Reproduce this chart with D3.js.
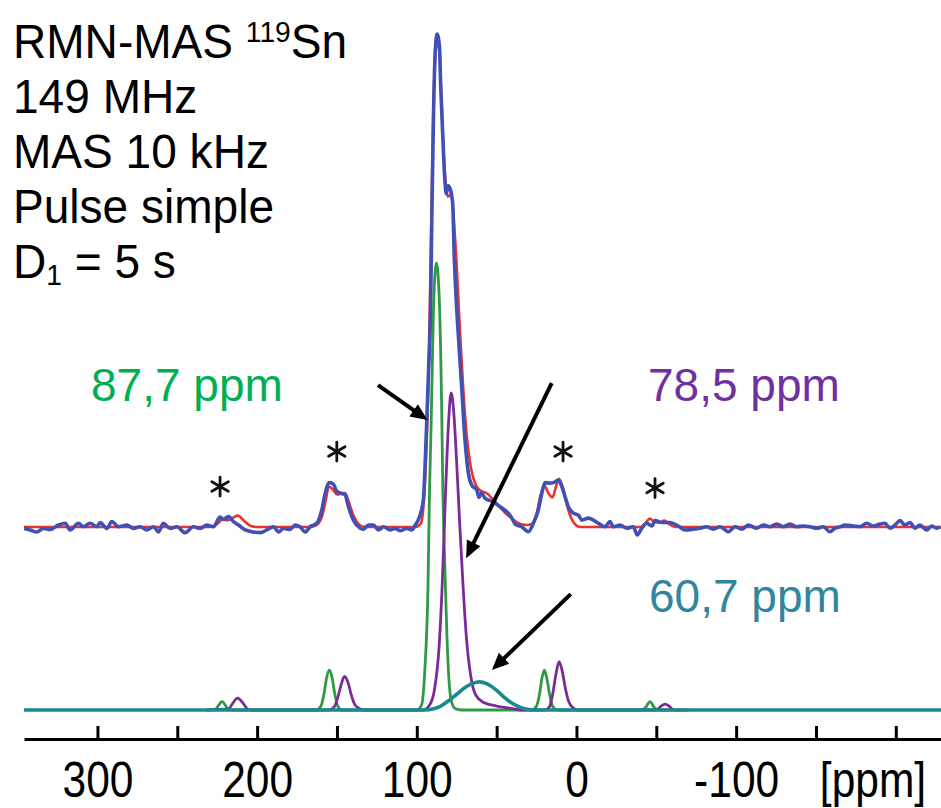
<!DOCTYPE html>
<html>
<head>
<meta charset="utf-8">
<script src="https://cdn.jsdelivr.net/npm/d3@7"></script>
<style>
  html, body { margin: 0; padding: 0; background: #ffffff; }
  svg { display: block; }
</style>
</head>
<body>
<svg id="chart" width="941" height="808"></svg>
<script>
// ---------------- DATA (ppm, intensity) ----------------
const tickValues = [300, 250, 200, 150, 100, 50, 0, -50, -100, -150, -200];
const labelledTicks = [300, 200, 100, 0, -100];
const axisUnit = "[ppm]";

const infoLines = ["RMN-MAS", "149 MHz", "MAS 10 kHz", "Pulse simple", "D"];

// experimental spectrum (blue)
const experimental = [
  [345.9,-0.3],[342.2,-0.6],[338.0,-1.0],[333.8,-0.3],[329.6,-0.5],[324.4,0.4],[320.2,0.75],[317.1,-0.6],
  [311.9,0.75],[308.8,0.05],[304.6,0.75],[300.4,0.05],[298.3,0.9],[294.1,-0.3],[291.0,1.1],[286.8,0.05],
  [281.6,0.4],[277.4,-0.3],[273.3,0.05],[269.1,-0.6],[264.9,0.05],[261.8,-1.0],[258.7,0.75],[254.5,-0.3],
  [250.3,0.05],[245.1,-1.15],[239.9,0.05],[235.7,-0.3],[231.5,0.4],[227.4,0.05],[223.2,2.0],[221.1,1.55],
  [218.0,2.1],[214.8,1.1],[211.7,0.4],[207.5,-0.6],[202.3,-1.0],[198.1,-1.15],[193.9,-0.6],[189.8,0.05],
  [186.6,-1.0],[183.5,-0.3],[179.3,-0.5],[176.2,0.4],[173.1,0.05],[169.9,-1.0],[166.8,0.05],[162.6,0.75],
  [159.5,3.45],[157.4,6.8],[154.7,9.0],[152.2,8.7],[150.1,7.2],[147.0,6.8],[144.9,6.5],[142.8,4.1],
  [139.7,1.4],[136.6,0.05],[133.4,-0.5],[130.3,0.4],[127.2,0.4],[124.0,-0.6],[120.9,0.05],[116.7,-0.6],
  [113.6,-0.3],[110.5,-0.75],[106.3,-0.3],[103.1,-0.6],[101.1,0.3],[99.0,1.5],[97.9,2.5],[95.9,5.5],
  [94.2,17.6],[92.7,31.2],[91.4,43.5],[90.6,62.3],[89.6,82.6],[88.5,96.1],[87.3,100],[85.8,97.4],
  [85.0,89.3],[83.7,79.1],[82.3,69.7],[81.5,67.6],[80.4,69.2],[79.0,68.5],[77.5,65.5],[76.6,55.5],
  [75.3,46.0],[74.0,39.0],[71.8,27.8],[69.8,17.6],[67.7,10.9],[65.6,8.5],[62.4,7.5],[61.0,6.0],
  [59.5,6.9],[57.2,5.8],[52.0,5.1],[47.8,4.1],[43.6,3.1],[41.6,2.4],[40.0,1.5],[38.4,0.6],
  [34.3,0.05],[30.1,-0.95],[27.0,0.75],[23.9,3.45],[21.7,6.8],[19.7,9.0],[16.5,8.9],[14.5,9.0],
  [11.3,9.5],[9.2,8.2],[7.1,6.1],[5.1,4.1],[1.9,2.8],[-1.2,2.4],[-3.3,1.4],[-7.5,1.8],
  [-10.6,1.4],[-13.7,0.75],[-17.9,0.05],[-21.0,1.1],[-23.1,0.05],[-27.3,0.4],[-31.5,-0.25],[-35.6,0.05],
  [-38.1,-1.6],[-40.9,-0.25],[-44.0,0.75],[-47.2,0.2],[-49.2,1.3],[-53.4,0.9],[-58.6,0.9],[-63.8,0.2],
  [-68.0,-0.6],[-73.2,-0.45],[-77.4,-0.25],[-81.6,0.05],[-85.7,-0.45],[-89.9,0.05],[-95.1,-0.95],[-99.3,0.05],
  [-103.5,-0.45],[-107.6,0.4],[-112.9,-0.25],[-117.0,0.4],[-121.2,0.05],[-125.4,0.6],[-129.6,0.05],[-133.7,0.6],
  [-137.9,0.05],[-142.1,0.2],[-146.3,0.05],[-150.5,-0.25],[-154.6,0.05],[-158.8,-0.95],[-161.9,-0.25],[-165.1,0.05],
  [-168.2,0.4],[-173.4,0.2],[-177.6,0.05],[-181.8,0.75],[-185.9,0.2],[-190.1,0.6],[-193.2,0.75],[-196.4,-0.25],
  [-199.5,0.4],[-202.6,1.3],[-205.7,0.4],[-208.9,0.9],[-212.0,-0.25],[-215.1,0.4],[-219.3,-0.6],[-222.5,0.2],
  [-225.6,-0.25],[-228.0,0.05]
];

// total fit (red)
const fitSum = [
  [346,0],[232,0],[228,0.1],[224,0.9],[222,1.5],[218,1.4],[215,1.9],[212,2.3],[208,1.2],[204,0.2],[200,0],
  [166,0],[162,0.6],[159,2.5],[157,5.5],[155,8.2],[152.5,7.6],[150,6.6],[147,6.8],[145,6.9],[143,5.5],
  [140,2.6],[137,0.8],[134,0.1],[130,0],
  [101,0],[98,0.5],[97,1.1],[95,8.5],[93,26],[91,60],[89.5,86],[87.7,98],[86,97],[84.5,86],[82.5,72],
  [80.5,67],[78.5,67.5],[77,63],[75,53],[73,40],[71,28.5],[69,19.5],[66,11.8],[63,8.5],[60.7,7.5],
  [56,6.8],[50,4.8],[45,3.0],[40,1.6],[35,0.6],[31,0.4],[28,0.6],[25,2.6],[22.5,6.5],[20.1,8.4],
  [17.5,6.8],[15,6.0],[13,8.0],[11,9.8],[8.5,8.0],[6,4.5],[3,1.6],[0,0.3],[-3,0],
  [-40,0],[-43,0.7],[-46,1.7],[-49,1.0],[-52,0.9],[-55,1.3],[-58,0.6],[-62,0],[-228,0]
];

// deconvolution components
const green87 = [
  [230,0],[226,0.2],[222,1.7],[218,0.2],[215,0],
  [163,0],[160,0.8],[158,3.5],[156.5,6.5],[154.8,8.1],[153,6.5],[151.5,3.5],[149.5,0.8],[147,0],
  [100,0],[97,1],[95,8],[93,25],[92,45],[91,58],[89.5,82],[87.7,90.7],[86,84],[84.5,63],[83.7,45],
  [82.5,30],[80.5,10],[78.5,2],[76,0.3],[72,0],
  [28,0],[25,0.8],[23,3.5],[21.6,6.5],[20.1,8.1],[18.6,6.5],[17,3.5],[15,0.8],[12,0],
  [-40,0],[-43,0.4],[-46,1.7],[-49,0.4],[-52,0],[-60,0]
];
const purple78 = [
  [232,0],[218,0.2],[215,1.5],[212.3,2.4],[209,1.5],[206,0.2],[203,0],
  [155,0],[152,0.5],[149.5,2.5],[147.5,5],[145.3,6.8],[143,5.5],[141,3],[139,1.2],[136,0.3],[133,0],
  [96,0],[92,1],[89,4],[86,13],[84,26],[82,44],[80,59],[78.5,64.3],[77,61],[75,50],[73,37],[71,25],
  [69,15],[66,6.5],[63,3],[58,1.5],[50,0.8],[40,0.3],[35,0],
  [20,0],[17,0.6],[15,3],[13,7],[10.9,9.8],[9,8],[7,4.5],[5,1.8],[2,0.4],[-1,0],
  [-50,0],[-53,0.8],[-55.5,1.2],[-58,0.8],[-61,0],[-70,0]
];
const teal60 = [
  [346,0],[95,0],[90,0.2],[85,0.8],[80,1.9],[75,3.2],[70,4.5],[65,5.4],[60.7,5.7],[56,5.3],
  [50,4.0],[45,2.5],[40,1.3],[35,0.5],[30,0.1],[25,0],[-228.3,0]
];

const peakLabels = ["87,7 ppm", "78,5 ppm", "60,7 ppm"];
const sidebandPpm = [223.2, 150.1, 8.4, -49.2];
const sidebandLevel = [8.2, 15.3, 15.3, 7.9];

// ---------------- DRAWING ----------------
const svg = d3.select("#chart");
const W = 941, H = 808;
svg.append("rect").attr("width", W).attr("height", H).attr("fill", "#ffffff");

const font = "'Liberation Sans', Arial, Helvetica, sans-serif";

const x = d3.scaleLinear().domain([346, -228.3]).range([24, 941]);
const yExp = d3.scaleLinear().domain([0, 100]).range([527, 34]);
const yFit = d3.scaleLinear().domain([0, 100]).range([710, 217]);

const lineExp = d3.line().x(d => x(d[0])).y(d => yExp(d[1])).curve(d3.curveMonotoneX);
const lineFit = d3.line().x(d => x(d[0])).y(d => yFit(d[1])).curve(d3.curveMonotoneX);

const plot = svg.append("g");

// red total fit and blue experimental (top trace)
plot.append("path").datum(fitSum).attr("d", lineExp)
  .attr("fill", "none").attr("stroke", "#e8342c").attr("stroke-width", 2.6).attr("stroke-linejoin", "round");
plot.append("path").datum(experimental).attr("d", lineExp)
  .attr("fill", "none").attr("stroke", "#4150b4").attr("stroke-width", 3.6).attr("stroke-linejoin", "round");

// components
plot.append("path").datum(green87).attr("d", lineFit)
  .attr("fill", "none").attr("stroke", "#2f9a45").attr("stroke-width", 2.8).attr("stroke-linejoin", "round");
plot.append("path").datum(purple78).attr("d", lineFit)
  .attr("fill", "none").attr("stroke", "#7b2a98").attr("stroke-width", 2.8).attr("stroke-linejoin", "round");
plot.append("path").datum(teal60).attr("d", lineFit)
  .attr("fill", "none").attr("stroke", "#1b8a8c").attr("stroke-width", 3.6).attr("stroke-linejoin", "round");

// axis
const axis = d3.axisBottom(x)
  .tickValues(tickValues)
  .tickSize(-13)
  .tickSizeOuter(0)
  .tickPadding(23)
  .tickFormat(d => labelledTicks.includes(d) ? String(d) : "");
const gAxis = svg.append("g").attr("transform", "translate(0,739)").call(axis);
gAxis.select(".domain").attr("stroke", "#000").attr("stroke-width", 3);
gAxis.selectAll(".tick line").attr("stroke", "#000").attr("stroke-width", 3);
gAxis.selectAll(".tick text")
  .attr("fill", "#000")
  .style("font-family", font)
  .style("font-size", "50px")
  .attr("transform", "scale(0.85,1)");
svg.append("text")
  .attr("transform", "translate(873,797) scale(0.85,1)")
  .attr("text-anchor", "middle")
  .style("font-family", font).style("font-size", "50px")
  .attr("fill", "#000").text(axisUnit);

// info text (top-left)
const info = svg.append("g").style("font-family", font).attr("fill", "#000");
const infoBase = [58, 113, 168, 223, 278];
const infoText = (i) => info.append("text")
  .attr("transform", `translate(13,${infoBase[i]}) scale(0.94,1)`)
  .style("font-size", "49px");
const t1 = infoText(0);
t1.append("tspan").text(infoLines[0] + " ");
t1.append("tspan").style("font-size", "30px").attr("dy", -16).text("119");
t1.append("tspan").attr("dy", 16).text("Sn");
infoText(1).text(infoLines[1]);
infoText(2).text(infoLines[2]);
infoText(3).text(infoLines[3]);
const t5 = infoText(4);
t5.append("tspan").text(infoLines[4]);
t5.append("tspan").style("font-size", "30px").attr("dy", 7).text("1");
t5.append("tspan").attr("dy", -7).text(" = 5 s");

// peak labels
const labelStyle = sel => sel.style("font-family", font).style("font-size", "46px");
svg.append("text").attr("x", 91).attr("y", 401).attr("fill", "#00b050").call(labelStyle).text(peakLabels[0]);
svg.append("text").attr("x", 648).attr("y", 401).attr("fill", "#7030a0").call(labelStyle).text(peakLabels[1]);
svg.append("text").attr("x", 649).attr("y", 612).attr("fill", "#31859c").call(labelStyle).text(peakLabels[2]);

// arrows (data coordinates of the fit panel)
const arrows = [
  [[124.3, 65.9], [93.3, 58.8]],
  [[15.5, 66.3], [69.1, 30.8]],
  [[3.6, 23.5], [53.0, 8.1]]
];
const gArr = svg.append("g");
arrows.forEach(([a, b]) => {
  const x0 = x(a[0]), y0 = yFit(a[1]), x1 = x(b[0]), y1 = yFit(b[1]);
  const dx = x1 - x0, dy = y1 - y0, L = Math.hypot(dx, dy);
  const ux = dx / L, uy = dy / L;
  const head = 17, half = 7.5;
  const bx = x1 - ux * head, by = y1 - uy * head;
  gArr.append("line").attr("x1", x0).attr("y1", y0).attr("x2", bx + ux * 2).attr("y2", by + uy * 2)
    .attr("stroke", "#000").attr("stroke-width", 4);
  gArr.append("path")
    .attr("d", `M${x1},${y1}L${bx - uy * half},${by + ux * half}L${bx + uy * half},${by - ux * half}Z`)
    .attr("fill", "#000");
});

// spinning sideband asterisks
const gAst = svg.append("g").attr("stroke", "#111").attr("stroke-width", 2.8).attr("stroke-linecap", "round");
sidebandPpm.forEach((p, i) => {
  const cx = x(p), cy = yExp(sidebandLevel[i]);
  const r = 9.5;
  [90, 30, 150].forEach(a => {
    const rad = a * Math.PI / 180;
    gAst.append("line")
      .attr("x1", cx - r * Math.cos(rad)).attr("y1", cy - r * Math.sin(rad))
      .attr("x2", cx + r * Math.cos(rad)).attr("y2", cy + r * Math.sin(rad));
  });
});
</script>
</body>
</html>
